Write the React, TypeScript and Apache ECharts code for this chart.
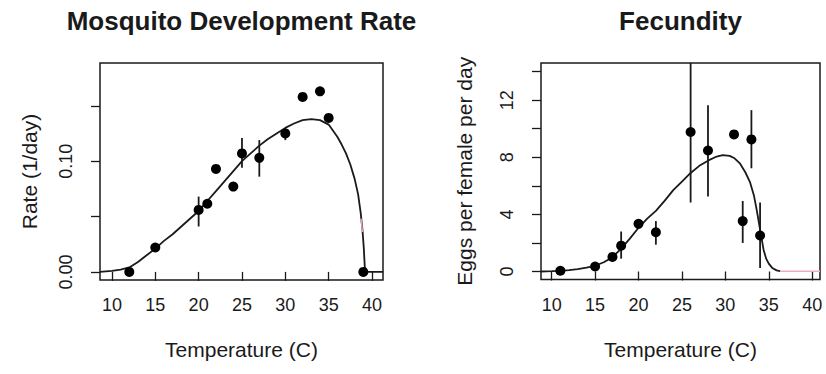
import { useEffect, useRef } from 'react';
import * as echarts from 'echarts';

// ---------- Left panel: Mosquito Development Rate ----------
const devTemps = [12, 15, 20, 21, 22, 24, 25, 27, 30, 32, 34, 35, 39];
const devRates = [0, 0.022, 0.056, 0.0615, 0.093, 0.077, 0.107, 0.103, 0.125, 0.158, 0.163, 0.139, 0];
const devErrTemps = [20, 25, 27, 30];
const devErrLow = [0.041, 0.094, 0.086, 0.119];
const devErrHigh = [0.068, 0.121, 0.119, 0.130];
const devCurveT = [8.6, 10, 11, 12, 13, 14, 15, 16, 17, 18, 19, 20, 21, 22, 23, 24, 25, 26, 27, 28, 29, 30, 31, 32, 33, 34, 35, 36, 36.5, 37, 37.5, 38, 38.4, 38.7, 38.9, 39.05, 39.2, 41.3];
const devCurveR = [0, 0.001, 0.002, 0.004, 0.009, 0.015, 0.021, 0.028, 0.034, 0.041, 0.048, 0.055, 0.064, 0.073, 0.082, 0.091, 0.1, 0.107, 0.114, 0.12, 0.125, 0.13, 0.134, 0.137, 0.138, 0.137, 0.133, 0.122, 0.115, 0.107, 0.097, 0.084, 0.07, 0.053, 0.038, 0.022, 0, 0];
const devRedT = [38.75, 38.9];
const devRedR = [0.048, 0.036];
const devYTicks = [0, 0.05, 0.1, 0.15];
const devYLabels = [0, 0.1];

// ---------- Right panel: Fecundity ----------
const fecTemps = [11, 15, 17, 18, 20, 22, 26, 28, 31, 32, 33, 34];
const fecEggs = [0.05, 0.35, 1.02, 1.81, 3.34, 2.75, 9.77, 8.47, 9.6, 3.53, 9.25, 2.52];
const fecErrTemps = [18, 22, 26, 28, 32, 33, 34];
const fecErrLow = [0.9, 1.88, 4.83, 5.25, 2.0, 7.23, 0.24];
const fecErrHigh = [2.8, 3.53, 14.6, 11.65, 4.94, 11.3, 4.83];
const fecCurveT = [8.75, 10, 11, 12, 13, 14, 15, 16, 17, 18, 19, 20, 21, 22, 23, 24, 25, 26, 27, 28, 29, 29.7, 30.5, 31, 31.7, 32.3, 32.85, 33.3, 33.6, 34, 34.4, 34.7, 35, 35.4, 35.9, 36.3];
const fecCurveE = [0, 0.02, 0.05, 0.1, 0.17, 0.27, 0.4, 0.65, 1.0, 1.6, 2.3, 3.06, 3.7, 4.25, 4.95, 5.7, 6.3, 6.9, 7.4, 7.76, 8.05, 8.15, 8.1, 7.95, 7.55, 6.95, 6.24, 5.3, 4.35, 2.94, 1.53, 0.9, 0.55, 0.25, 0.08, 0.02];
const fecRedT = [36.3, 40.9];
const fecRedE = [0.02, 0.02];
const fecYTicks = [0, 2, 4, 6, 8, 10, 12, 14];
const fecYLabels = [0, 4, 8, 12];

const xTicks = [10, 15, 20, 25, 30, 35, 40];

const FONT = 'Liberation Sans, Arial, Helvetica, sans-serif';
const INK = '#1a1a1a';

const zip = (a: number[], b: number[]) => a.map((v, i) => [v, b[i]]);
const zip3 = (a: number[], b: number[], c: number[]) => a.map((v, i) => [v, b[i], c[i]]);

const errRender = (_params: any, api: any) => {
  const p1 = api.coord([api.value(0), api.value(1)]);
  const p2 = api.coord([api.value(0), api.value(2)]);
  return {
    type: 'line',
    shape: { x1: p1[0], y1: p1[1], x2: p2[0], y2: p2[1] },
    style: { stroke: INK, lineWidth: 1.8 },
  };
};

const makeX = (gridIndex: number, min: number, max: number) => ({
  type: 'value',
  gridIndex,
  min,
  max,
  name: 'Temperature (C)',
  nameLocation: 'middle',
  nameGap: 59,
  nameTextStyle: { fontFamily: FONT, fontSize: 21, color: INK },
  axisLine: { show: false },
  axisTick: { show: true, length: 9, lineStyle: { color: INK, width: 1.3 }, customValues: xTicks },
  axisLabel: { show: true, margin: 16, fontFamily: FONT, fontSize: 18, color: INK, customValues: xTicks },
  splitLine: { show: false },
});

const makeY = (gridIndex: number, min: number, max: number, name: string, nameGap: number, ticks: number[], labels: number[], fmt: (v: number) => string) => ({
  type: 'value',
  gridIndex,
  min,
  max,
  name,
  nameLocation: 'middle',
  nameGap,
  nameTextStyle: { fontFamily: FONT, fontSize: 21, color: INK },
  axisLine: { show: false },
  axisTick: { show: true, length: 9, lineStyle: { color: INK, width: 1.3 }, customValues: ticks },
  axisLabel: { show: true, rotate: 90, margin: 25, fontFamily: FONT, fontSize: 18, color: INK, customValues: labels, formatter: fmt },
  splitLine: { show: false },
});

export default function App() {
  const ref = useRef<HTMLDivElement>(null);
  useEffect(() => {
    if (!ref.current) return;
    const chart = echarts.init(ref.current, undefined, { renderer: 'svg' });
    chart.setOption({
      animation: false,
      backgroundColor: '#ffffff',
      graphic: [
        {
          type: 'text', x: 241.5, y: 21,
          style: { text: 'Mosquito Development Rate', font: `bold 26px ${FONT}`, fill: INK, textAlign: 'center', textVerticalAlign: 'middle' },
        },
        {
          type: 'text', x: 680.5, y: 21,
          style: { text: 'Fecundity', font: `bold 26px ${FONT}`, fill: INK, textAlign: 'center', textVerticalAlign: 'middle' },
        },
      ],
      grid: [
        { left: 100, right: 443, top: 63, bottom: 94, show: true, borderColor: INK, borderWidth: 1.5, backgroundColor: 'transparent' },
        { left: 541, right: 6, top: 63, bottom: 94.5, show: true, borderColor: INK, borderWidth: 1.5, backgroundColor: 'transparent' },
      ],
      xAxis: [makeX(0, 8.62, 41.27), makeX(1, 8.77, 40.9)],
      yAxis: [
        makeY(0, -0.0073, 0.1886, 'Rate (1/day)', 60, devYTicks, devYLabels, (v: number) => v.toFixed(2)),
        makeY(1, -0.56, 14.6, 'Eggs per female per day', 66, fecYTicks, fecYLabels, (v: number) => String(v)),
      ],
      series: [
        {
          type: 'line', xAxisIndex: 0, yAxisIndex: 0, data: zip(devCurveT, devCurveR),
          showSymbol: false, symbol: 'none', lineStyle: { color: INK, width: 1.8 }, z: 2,
        },
        {
          type: 'line', xAxisIndex: 0, yAxisIndex: 0, data: zip(devRedT, devRedR),
          showSymbol: false, symbol: 'none', lineStyle: { color: '#e6a3b3', width: 1.5 }, z: 3,
        },
        {
          type: 'custom', xAxisIndex: 0, yAxisIndex: 0, data: zip3(devErrTemps, devErrLow, devErrHigh),
          encode: { x: 0, y: [1, 2] }, renderItem: errRender, z: 3,
        },
        {
          type: 'scatter', xAxisIndex: 0, yAxisIndex: 0, data: zip(devTemps, devRates),
          symbol: 'circle', symbolSize: 10, itemStyle: { color: '#000', opacity: 1 }, z: 4,
        },
        {
          type: 'line', xAxisIndex: 1, yAxisIndex: 1, data: zip(fecCurveT, fecCurveE),
          showSymbol: false, symbol: 'none', lineStyle: { color: INK, width: 1.8 }, z: 2,
        },
        {
          type: 'line', xAxisIndex: 1, yAxisIndex: 1, data: zip(fecRedT, fecRedE),
          showSymbol: false, symbol: 'none', lineStyle: { color: '#eab0bf', width: 1.5 }, z: 2,
        },
        {
          type: 'custom', xAxisIndex: 1, yAxisIndex: 1, data: zip3(fecErrTemps, fecErrLow, fecErrHigh),
          encode: { x: 0, y: [1, 2] }, renderItem: errRender, z: 3,
        },
        {
          type: 'scatter', xAxisIndex: 1, yAxisIndex: 1, data: zip(fecTemps, fecEggs),
          symbol: 'circle', symbolSize: 10, itemStyle: { color: '#000', opacity: 1 }, z: 4,
        },
      ],
    });
    return () => chart.dispose();
  }, []);
  return (
    <div
      ref={ref}
      style={{ position: 'absolute', left: 0, top: 0, width: 826, height: 374, background: '#fff' }}
    />
  );
}
